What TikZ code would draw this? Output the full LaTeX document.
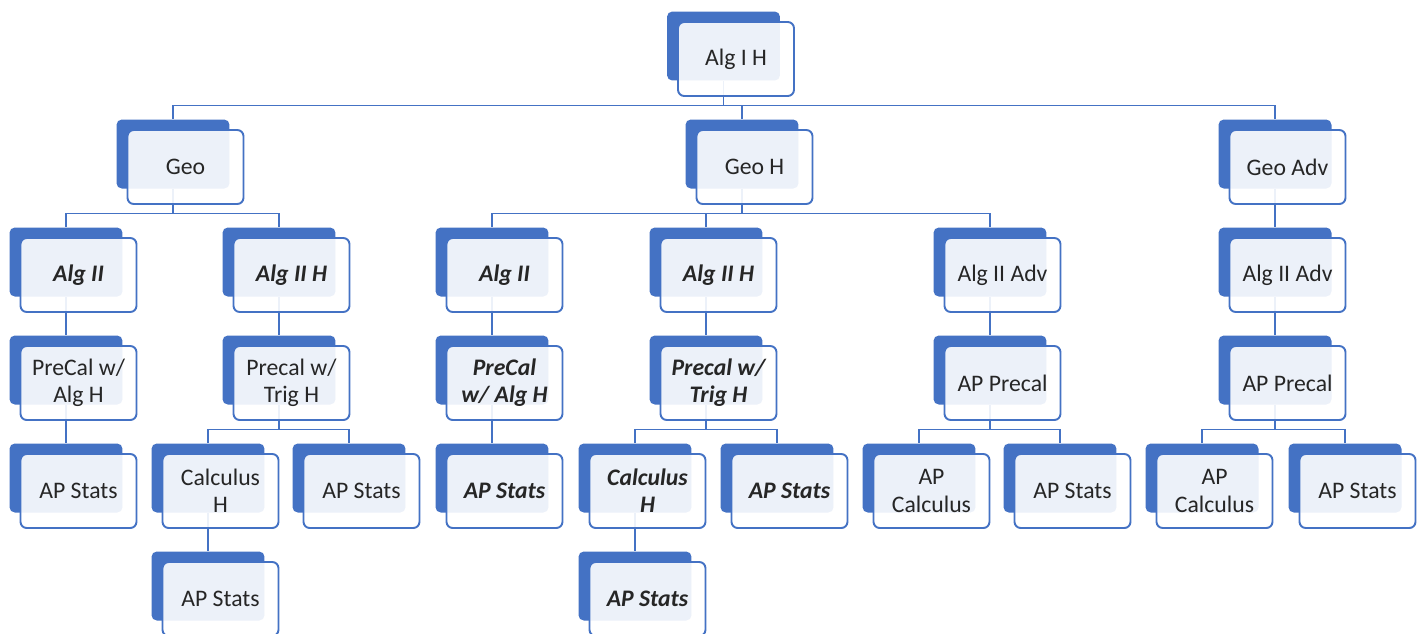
\documentclass[tikz,border=0pt]{standalone}
\usepackage{fontspec}
\setmainfont{Carlito}
\usepackage{xcolor}
\usetikzlibrary{positioning, backgrounds}
\definecolor{boxblue}{HTML}{4472C4}

\begin{document}
\begin{tikzpicture}[x=0.02cm, y=-0.02cm,
  every node/.style={font=\fontsize{13.5}{15.5}\selectfont},
  back/.style={fill=boxblue, rounded corners=3pt, minimum width=2.26cm,
    minimum height=1.38cm, inner sep=0pt},
  front/.style={draw=boxblue, line width=1.1pt, fill=white, fill opacity=0.9,
    text opacity=1, rounded corners=3.5pt, minimum width=2.32cm,
    minimum height=1.48cm, inner sep=0pt, align=center, text=black!85},
  link/.style={draw=boxblue, line width=0.9pt},
  emph/.style={font=\fontsize{13.5}{15.5}\selectfont\bfseries\itshape},
  plain/.style={}]

\useasboundingbox (0,0) rectangle (1424,633);

% ------------------------------------------------------------------
% COURSE BOXES (back block + front card)
% ------------------------------------------------------------------
\foreach \n/\x/\y/\t/\s in {
  root/723.5/46/{Alg I H}/plain,
  geo/173/154/{Geo}/plain,
  geoh/742/154/{Geo H}/plain,
  geoadv/1275/154/{Geo Adv}/plain,
  algtwo/66/262/{Alg II}/emph,
  algtwoh/279/262/{Alg II H}/emph,
  malgtwo/492/262/{Alg II}/emph,
  malgtwoh/706/262/{Alg II H}/emph,
  algtwoadv/990/262/{Alg II Adv}/plain,
  ralgtwoadv/1275/262/{Alg II Adv}/plain,
  precal/66/370/{PreCal w/\\Alg H}/plain,
  precalt/279/370/{Precal w/\\Trig H}/plain,
  mprecal/492/370/{PreCal\\w/ Alg H}/emph,
  mprecalt/706/370/{Precal w/\\Trig H}/emph,
  apprecal/990/370/{AP Precal}/plain,
  rapprecal/1275/370/{AP Precal}/plain,
  stats/66/478/{AP Stats}/plain,
  calc/208/478/{Calculus\\H}/plain,
  statsb/349/478/{AP Stats}/plain,
  mstats/492/478/{AP Stats}/emph,
  mcalc/635/478/{Calculus\\H}/emph,
  mstatsb/777/478/{AP Stats}/emph,
  apcalc/919/478/{AP\\Calculus}/plain,
  statsc/1060/478/{AP Stats}/plain,
  rapcalc/1202/478/{AP\\Calculus}/plain,
  rstats/1345/478/{AP Stats}/plain,
  statsd/208/586/{AP Stats}/plain,
  mstatsc/635/586/{AP Stats}/emph} {
  \node[back] (\n) at (\x,\y) {};
  \node[front, \s] (\n-f) at ([xshift=0.25cm, yshift=-0.26cm]\n.center) {\t};
}

% ------------------------------------------------------------------
% CONNECTORS (behind the cards)
% ------------------------------------------------------------------
\begin{pgfonlayer}{background}
\foreach \a/\b in {root/geo, root/geoh, root/geoadv,
  geo/algtwo, geo/algtwoh,
  geoh/malgtwo, geoh/malgtwoh, geoh/algtwoadv,
  geoadv/ralgtwoadv,
  algtwo/precal, algtwoh/precalt,
  malgtwo/mprecal, malgtwoh/mprecalt,
  algtwoadv/apprecal, ralgtwoadv/rapprecal,
  precal/stats, precalt/calc, precalt/statsb,
  mprecal/mstats, mprecalt/mcalc, mprecalt/mstatsb,
  apprecal/apcalc, apprecal/statsc,
  rapprecal/rapcalc, rapprecal/rstats,
  calc/statsd, mcalc/mstatsc} {
  \draw[link] (\a.south) |- ([yshift=0.27cm]\b.north) -- (\b.north);
}
\end{pgfonlayer}

\end{tikzpicture}
\end{document}
